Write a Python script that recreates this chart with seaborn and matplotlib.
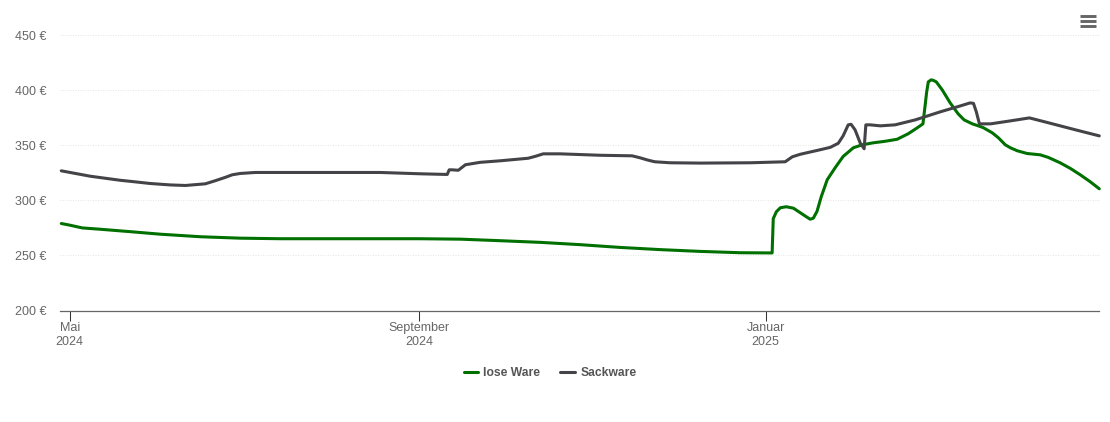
import matplotlib
matplotlib.use("Agg")
import matplotlib.pyplot as plt
import pandas as pd
import seaborn as sns
from matplotlib.lines import Line2D

START = pd.Timestamp("2024-05-01")

# days since 1 May 2024, price in EUR
lose_days = [-3, 0, 4.4, 10.7, 21.3, 31.9, 46, 60, 74, 95, 123, 137.5, 151.6, 165.7, 179.8, 193.8, 208, 222, 236,
             247.3, 247.7, 248.8, 250.2, 252.3, 254.8, 257.2, 259.3, 260.7, 261.8, 263.1, 264.6, 266.7, 269.5,
             272.3, 275.9, 279, 282.9, 287.1, 291.3, 295.2, 298.4, 300.4, 301.2, 301.7, 302.3, 303.3, 304, 305.1, 307.2,
             310, 312.8, 314.9, 317.8, 320, 321.6, 324.8, 327, 329.4, 331.2, 333.6, 337.1, 341.7, 344.5, 348.7, 352.3,
             355.8, 359.3, 362.5]
lose_values = [279, 277.5, 275, 273.8, 271.6, 269.3, 267, 265.7, 265.2, 265.2, 265.2, 264.8, 263.4, 261.9, 259.8,
               257.3, 255.3, 253.7, 252.5, 252.3, 283.4, 289.7, 293.3, 294.2, 292.9, 288.8, 285.2, 282.9, 283.8,
               290, 303.3, 318.7, 329.6, 339.8, 347.7, 350.4, 352.2, 353.6, 355.4, 360.4, 365.8, 369.4, 386.6, 398,
               407.5, 409.3, 408.9, 407.5, 400.2, 388.4, 378.5, 373, 369.4, 367.5, 366, 361.3, 356.7, 350.4, 347.7, 345,
               342.5, 341.3, 339, 334.1, 329, 323.2, 316.9, 310.5]
sack_days = [-3, 7.2, 17.8, 23, 28.3, 35.4, 40.7, 47.7, 51.2, 54.8, 57.2, 60, 65.3, 81.2, 109.3, 123.4, 132.9, 133.6,
             134.7, 136.8, 139.3, 144.5, 151.6, 161.4, 164, 166.7, 172.7, 186.8, 198, 200.8, 203.7, 206, 211.4, 222,
             239.6, 251.9, 254.4, 257.2, 264.2, 267.8, 270.6, 272.3, 273.2, 274.1, 275.1, 276.5, 278.3, 279.7, 280.3,
             281.8, 285.4, 290.6, 297.7, 306.5, 313.6, 317, 318.2, 319.2, 320.3, 324.2, 331.2, 337.9, 345.3, 354.1,
             362.5]
sack_values = [326.8, 321.9, 318.2, 316.8, 315.3, 314, 313.5, 315, 317.8, 320.9, 323.2, 324.4, 325.3, 325.3, 325.3,
               324.1, 323.5, 327.7, 327.7, 327.3, 332.3, 334.5, 335.9, 338.2, 340, 342.2, 342.2, 340.9, 340.4, 338.6,
               336.4, 335, 334.1, 333.8, 334.1, 335, 339.5, 341.8, 345.9, 348.1, 351.8, 358.5, 363.5, 368.5, 369, 364,
               352.2, 346.8, 368.5, 368.5, 367.6, 368.5, 373, 380.3, 385.7, 388.4, 388, 380.3, 369.4, 369.4, 372.1,
               374.8, 369.9, 364, 358.5]
series_names = ["lose Ware", "Sackware"]
y_ticks = [200, 250, 300, 350, 400, 450]
x_ticks = ["2024-05-01", "2024-09-01", "2025-01-01"]
x_tick_labels = ["Mai\n2024", "September\n2024", "Januar\n2025"]

W, H = 1110, 422
sns.set_theme(style="white")
plt.rcParams["font.family"] = ["Liberation Sans", "DejaVu Sans"]

df = pd.concat([
    pd.DataFrame({"date": START + pd.to_timedelta(lose_days, unit="D"), "price": lose_values, "series": series_names[0]}),
    pd.DataFrame({"date": START + pd.to_timedelta(sack_days, unit="D"), "price": sack_values, "series": series_names[1]}),
])

fig = plt.figure(figsize=(W / 100, H / 100), dpi=100, facecolor="white")
ax = fig.add_axes([60 / W, 1 - 310.6 / H, (1099 - 60) / W, (310.6 - 35) / H])
sns.lineplot(data=df, x="date", y="price", hue="series", palette=["#007000", "#434348"],
             estimator=None, sort=False, linewidth=2.2, ax=ax, legend=False, clip_on=False)
for l in ax.lines:
    l.set_solid_joinstyle("round")
    l.set_solid_capstyle("round")

ax.set_xlim(START + pd.to_timedelta(-3.45, unit="D"), START + pd.to_timedelta(362.4, unit="D"))
ax.set_ylim(200, 450)
ax.set_xlabel("")
ax.set_ylabel("")
ax.set_yticks(y_ticks)
ax.set_yticklabels([f"{v} €" for v in y_ticks])
ax.set_xticks(pd.to_datetime(x_ticks))
ax.set_xticklabels(x_tick_labels, linespacing=1.25)
ax.tick_params(axis="x", length=7.2, width=0.75, color="#333333", labelsize=9, labelcolor="#666666", pad=0.9, bottom=True)
ax.tick_params(axis="y", length=0, labelsize=9, labelcolor="#666666", pad=9.9)
ax.grid(axis="y", color="#e6e6e6", linewidth=0.72, linestyle=(0, (1, 1.5)))
ax.grid(axis="x", visible=False)
ax.set_axisbelow(True)
for s in ["top", "left", "right"]:
    ax.spines[s].set_visible(False)
ax.spines["bottom"].set_color("#666666")
ax.spines["bottom"].set_linewidth(0.9)

# legend
handles = [Line2D([], [], color=c, lw=2.2, solid_capstyle="round") for c in ["#007000", "#434348"]]
leg = fig.legend(handles, series_names, loc="center", bbox_to_anchor=(550 / W, 1 - 373 / H), ncol=2, frameon=False,
                 prop={"size": 8.7, "weight": "bold"}, handlelength=1.2, handletextpad=0.45, columnspacing=1.65,
                 labelcolor="#555555")

# menu icon
for py in (16, 21.3, 26.3):
    fig.add_artist(Line2D([1079.8 / W, 1096 / W], [1 - py / H] * 2, color="#666666", lw=2.1, solid_capstyle="butt"))

fig.savefig("out.png", dpi=100, facecolor="white")
